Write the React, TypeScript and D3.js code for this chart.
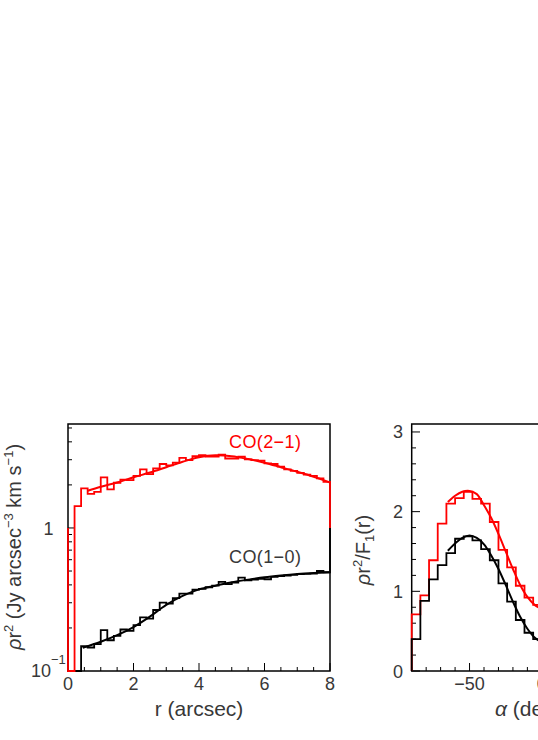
import React from 'react';
import * as d3 from 'd3';

// Radial profile: bins of 0.2 arcsec from r = 0 to 8.
const R_BIN_WIDTH = 0.2;
const co21Radial = [
  0, 1.42, 1.89, 1.73, 1.79, 2.26, 1.86, 2.07, 2.18, 2.16,
  2.31, 2.57, 2.38, 2.61, 2.8, 2.74, 2.86, 3.09, 2.98, 3.18,
  3.23, 3.15, 3.15, 3.25, 3.06, 3.06, 3.15, 3.02, 2.98, 2.95,
  2.83, 2.8, 2.68, 2.57, 2.51, 2.43, 2.36, 2.31, 2.22, 2.1,
];
const co10Radial = [
  0, 0, 0.149, 0.146, 0.154, 0.193, 0.164, 0.176, 0.195, 0.191,
  0.209, 0.237, 0.232, 0.267, 0.301, 0.296, 0.323, 0.347, 0.348, 0.371,
  0.375, 0.385, 0.395, 0.42, 0.405, 0.415, 0.45, 0.43, 0.435, 0.44,
  0.438, 0.455, 0.46, 0.465, 0.47, 0.475, 0.478, 0.48, 0.5, 0.49,
];
const co21FitR = [0.6, 1, 1.5, 2, 2.5, 3, 3.5, 4, 4.5, 5, 5.5, 6, 6.5, 7, 7.5, 8];
const co21Fit = [1.82, 1.94, 2.08, 2.26, 2.44, 2.66, 2.9, 3.12, 3.22, 3.17, 3.03, 2.86, 2.66, 2.47, 2.28, 2.08];
const co10FitR = [0.45, 1, 1.5, 2, 2.5, 3, 3.5, 4, 4.5, 5, 5.5, 6, 6.5, 7, 7.5, 8];
const co10Fit = [0.145, 0.16, 0.178, 0.203, 0.24, 0.29, 0.335, 0.372, 0.395, 0.418, 0.435, 0.452, 0.465, 0.476, 0.484, 0.49];

// Azimuthal profile: bins of 6 deg starting at -90 (only the visible part).
const A_BIN_START = -90;
const A_BIN_WIDTH = 6;
const co21Azim = [0.71, 0.95, 1.39, 1.85, 2.1, 2.17, 2.25, 2.16, 2.1, 1.87, 1.52, 1.3, 1.07, 0.92, 0.83];
const co10Azim = [0.4, 0.88, 1.15, 1.33, 1.48, 1.66, 1.69, 1.64, 1.53, 1.39, 1.1, 0.87, 0.64, 0.48, 0.4];
const azFitA = [-65, -60, -55, -50, -45, -40, -35, -30, -25, -20, -15, -10, -5, 0];
const co21AzFit = [2.12, 2.2, 2.25, 2.26, 2.22, 2.08, 1.92, 1.72, 1.5, 1.28, 1.08, 0.93, 0.83, 0.78];
const co10AzFit = [1.51, 1.6, 1.67, 1.7, 1.67, 1.59, 1.45, 1.28, 1.08, 0.87, 0.68, 0.53, 0.42, 0.36];

const rMajor = [0, 2, 4, 6, 8];
const aMajor = [-50, 0, 50];
const azYMajor = [0, 1, 2, 3];

const FONT = '"Liberation Sans", Arial, Helvetica, sans-serif';
const TXT = '#383838';
const RED = '#ff0000';

const TOP = 424;
const BOT = 671;

function histPath(
  x: (v: number) => number,
  y: (v: number) => number,
  start: number,
  width: number,
  values: number[],
  base: number,
) {
  const pts: [number, number][] = [[x(start), y(base)]];
  values.forEach((v, i) => {
    const a = start + i * width;
    pts.push([x(a), y(v)], [x(a + width), y(v)]);
  });
  pts.push([x(start + values.length * width), y(base)]);
  return d3.line()(pts) ?? '';
}

function fitPath(
  x: (v: number) => number,
  y: (v: number) => number,
  xs: number[],
  ys: number[],
) {
  const line = d3
    .line<number>()
    .x((_, i) => x(xs[i]))
    .y((v) => y(v))
    .curve(d3.curveCatmullRom);
  return line(ys) ?? '';
}

function RadialPanel() {
  const x = d3.scaleLinear().domain([0, 8]).range([68, 330]);
  const yLog = d3.scaleLog().domain([0.1, 5.33]).range([BOT, TOP]).clamp(true);
  const y = (v: number) => yLog(Math.max(v, 0.1));
  const minorX = d3.range(0, 8.01, 0.5).filter((v) => !rMajor.includes(v));
  const minorY = [0.2, 0.3, 0.4, 0.5, 0.6, 0.7, 0.8, 0.9, 2, 3, 4, 5];
  return (
    <g>
      {minorX.map((v) => (
        <line key={`mx${v}`} x1={x(v)} x2={x(v)} y1={BOT} y2={BOT - 4} stroke="#000" strokeWidth={1} />
      ))}
      {rMajor.map((v) => (
        <line key={`Mx${v}`} x1={x(v)} x2={x(v)} y1={BOT} y2={BOT - 8} stroke="#000" strokeWidth={1} />
      ))}
      {minorY.map((v) => (
        <line key={`my${v}`} x1={68} x2={72} y1={y(v)} y2={y(v)} stroke="#000" strokeWidth={1} />
      ))}
      {[0.1, 1].map((v) => (
        <line key={`My${v}`} x1={68} x2={75} y1={y(v)} y2={y(v)} stroke="#000" strokeWidth={1} />
      ))}
      <rect x={68} y={TOP} width={262} height={BOT - TOP} fill="none" stroke="#000" strokeWidth={1.5} />

      <path d={histPath(x, y, 0, R_BIN_WIDTH, co10Radial, 1)} fill="none" stroke="#000" strokeWidth={1.8} />
      <path d={fitPath(x, y, co10FitR, co10Fit)} fill="none" stroke="#000" strokeWidth={2} />
      <path d={histPath(x, y, 0, R_BIN_WIDTH, co21Radial, 1)} fill="none" stroke={RED} strokeWidth={1.8} />
      <path d={fitPath(x, y, co21FitR, co21Fit)} fill="none" stroke={RED} strokeWidth={2} />

      {rMajor.map((v) => (
        <text key={`lx${v}`} x={x(v)} y={690} textAnchor="middle" fontSize={18} fill={TXT}>
          {v}
        </text>
      ))}
      <text x={53.5} y={y(1) + 7} textAnchor="end" fontSize={18} fill={TXT}>1</text>
      <text x={31} y={677} fontSize={18} fill={TXT}>
        10
        <tspan dy={-13} fontSize={13}>−1</tspan>
      </text>

      <text x={229} y={448} fontSize={18} fill={RED} letterSpacing={0.4}>CO(2−1)</text>
      <text x={229} y={563} fontSize={18} fill={TXT} letterSpacing={0.4}>CO(1−0)</text>

      <text x={199} y={716} textAnchor="middle" fontSize={21} fill={TXT}>r (arcsec)</text>
      <text transform="translate(21,547) rotate(-90)" textAnchor="middle" fontSize={20} fill={TXT}>
        <tspan fontStyle="italic">ρ</tspan>r
        <tspan dy={-8} fontSize={13}>2</tspan>
        <tspan dy={8}> (Jy arcsec</tspan>
        <tspan dy={-8} fontSize={13}>−3</tspan>
        <tspan dy={8}> km s</tspan>
        <tspan dy={-8} fontSize={13}>−1</tspan>
        <tspan dy={8}>)</tspan>
      </text>
    </g>
  );
}

function AzimuthPanel() {
  const x = d3.scaleLinear().domain([-90, 90]).range([411.7, 672]);
  const y = d3.scaleLinear().domain([0, 3.1]).range([BOT, TOP]);
  const minorX = d3.range(-90, 90.1, 10).filter((v) => !aMajor.includes(v));
  const minorY = d3.range(0, 3.01, 0.2).filter((v) => Math.abs(v - Math.round(v)) > 0.01);
  return (
    <g>
      {minorX.map((v) => (
        <line key={`mx${v}`} x1={x(v)} x2={x(v)} y1={BOT} y2={BOT - 4} stroke="#000" strokeWidth={1} />
      ))}
      {aMajor.map((v) => (
        <line key={`Mx${v}`} x1={x(v)} x2={x(v)} y1={BOT} y2={BOT - 8} stroke="#000" strokeWidth={1} />
      ))}
      {minorY.map((v) => (
        <line key={`my${v}`} x1={411.7} x2={416} y1={y(v)} y2={y(v)} stroke="#000" strokeWidth={1} />
      ))}
      {azYMajor.map((v) => (
        <line key={`My${v}`} x1={411.7} x2={420} y1={y(v)} y2={y(v)} stroke="#000" strokeWidth={1} />
      ))}
      <rect x={411.7} y={TOP} width={260.3} height={BOT - TOP} fill="none" stroke="#000" strokeWidth={1.5} />

      <path d={histPath(x, y, A_BIN_START, A_BIN_WIDTH, co21Azim, 0)} fill="none" stroke={RED} strokeWidth={1.8} />
      <path d={fitPath(x, y, azFitA, co21AzFit)} fill="none" stroke={RED} strokeWidth={2} />
      <path d={histPath(x, y, A_BIN_START, A_BIN_WIDTH, co10Azim, 0)} fill="none" stroke="#000" strokeWidth={1.8} />
      <path d={fitPath(x, y, azFitA, co10AzFit)} fill="none" stroke="#000" strokeWidth={2} />

      {aMajor.map((v) => (
        <text key={`lx${v}`} x={x(v)} y={690} textAnchor="middle" fontSize={18} fill={TXT}>
          {v < 0 ? `−${-v}` : v}
        </text>
      ))}
      {azYMajor.map((v) => (
        <text key={`ly${v}`} x={403} y={y(v) + 6.5} textAnchor="end" fontSize={18} fill={TXT}>
          {v}
        </text>
      ))}

      <text x={495} y={716} fontSize={21} fill={TXT}>
        <tspan fontStyle="italic">α</tspan> (deg)
      </text>
      <text transform="translate(370,550) rotate(-90)" textAnchor="middle" fontSize={20} fill={TXT}>
        <tspan fontStyle="italic">ρ</tspan>r
        <tspan dy={-8} fontSize={13}>2</tspan>
        <tspan dy={8}>/F</tspan>
        <tspan dy={4} fontSize={13}>1</tspan>
        <tspan dy={-4}>(r)</tspan>
      </text>
    </g>
  );
}

export default function App() {
  return (
    <svg
      width={538}
      height={740}
      viewBox="0 0 538 740"
      style={{ position: 'absolute', left: 0, top: 0, background: '#fff', fontFamily: FONT }}
    >
      <rect width={538} height={740} fill="#fff" />
      <RadialPanel />
      <AzimuthPanel />
    </svg>
  );
}
